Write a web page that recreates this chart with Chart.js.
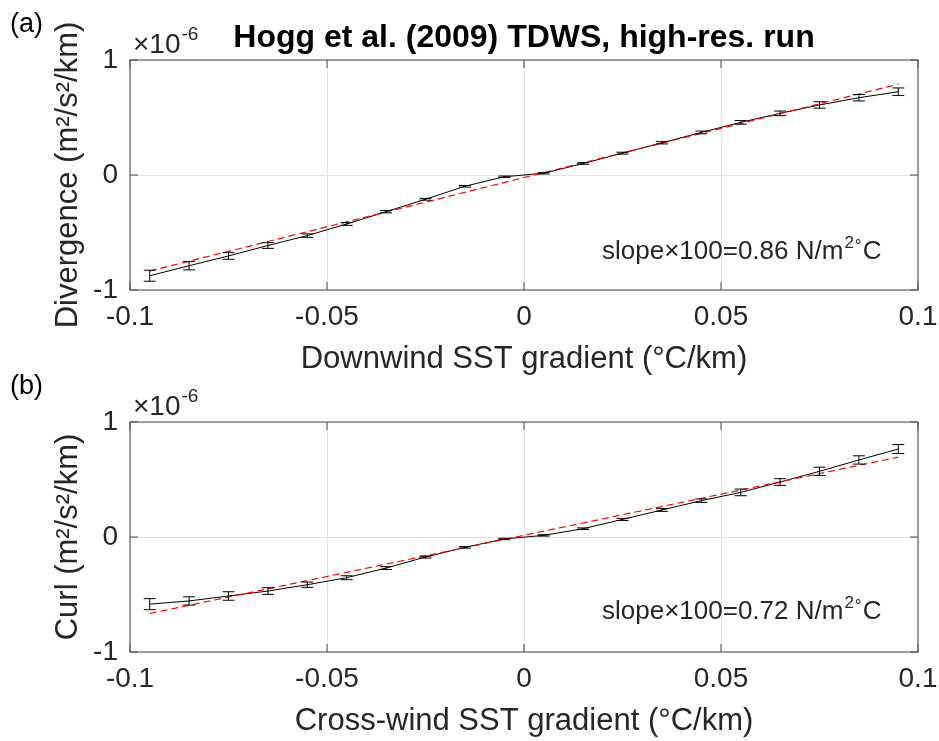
<!DOCTYPE html>
<html>
<head>
<meta charset="utf-8">
<script src="https://cdn.jsdelivr.net/npm/chart.js@4.4.1/dist/chart.umd.min.js"></script>
<style>
html, body { margin: 0; padding: 0; background: #fff; }
#wrap { position: relative; width: 939px; height: 741px; }
canvas { position: absolute; left: 0; top: 0; }
</style>
</head>
<body>
<div id="wrap">
<canvas id="panel-a" width="939" height="741"></canvas>
<canvas id="panel-b" width="939" height="741"></canvas>
</div>
<script>
"use strict";
// bin centres (°C/km)
const gradients = [-0.095, -0.085, -0.075, -0.065, -0.055, -0.045, -0.035, -0.025, -0.015, -0.005,
                   0.005, 0.015, 0.025, 0.035, 0.045, 0.055, 0.065, 0.075, 0.085, 0.095];
// values in units of 1e-6
const divergence = [-0.876, -0.789, -0.704, -0.613, -0.527, -0.426, -0.319, -0.211, -0.098, -0.015,
                    0.015, 0.10, 0.19, 0.28, 0.37, 0.458, 0.536, 0.609, 0.672, 0.724];
const divergenceErr = [0.048, 0.036, 0.029, 0.025, 0.015, 0.012, 0.010, 0.008, 0.007, 0.006,
                       0.006, 0.007, 0.008, 0.010, 0.012, 0.016, 0.020, 0.028, 0.028, 0.033];
const curl = [-0.584, -0.556, -0.513, -0.470, -0.415, -0.354, -0.270, -0.174, -0.090, -0.017,
              0.014, 0.072, 0.153, 0.235, 0.316, 0.388, 0.478, 0.571, 0.670, 0.765];
const curlErr = [0.048, 0.036, 0.037, 0.029, 0.023, 0.017, 0.012, 0.009, 0.007, 0.006,
                 0.006, 0.007, 0.009, 0.012, 0.015, 0.029, 0.029, 0.036, 0.036, 0.039];
const fitX = [-0.095, 0.095];
const divergenceFit = [-0.835, 0.79];
const curlFit = [-0.665, 0.695];
const xTicks = [-0.1, -0.05, 0, 0.05, 0.1];
const yTicks = [-1, 0, 1];

const font = "'Liberation Sans', Arial, Helvetica, sans-serif";
const textColor = "#262626";

const axesBox = {
    id: "axesBox",
    beforeDatasetsDraw(chart) {
        const { ctx, chartArea: a, scales } = chart;
        ctx.save();
        ctx.strokeStyle = "#4a4a4a";
        ctx.lineWidth = 1;
        ctx.strokeRect(a.left, a.top, a.right - a.left, a.bottom - a.top);
        ctx.beginPath();
        xTicks.forEach((t) => {
            const px = Math.round(scales.x.getPixelForValue(t));
            ctx.moveTo(px, a.bottom);
            ctx.lineTo(px, a.bottom - 8);
            ctx.moveTo(px, a.top);
            ctx.lineTo(px, a.top + 8);
        });
        yTicks.forEach((t) => {
            const py = Math.round(scales.y.getPixelForValue(t));
            ctx.moveTo(a.left, py);
            ctx.lineTo(a.left + 8, py);
            ctx.moveTo(a.right, py);
            ctx.lineTo(a.right - 8, py);
        });
        ctx.stroke();
        ctx.restore();
    },
};

const errorBars = {
    id: "errorBars",
    afterDatasetsDraw(chart, args, opts) {
        const { ctx, scales } = chart;
        const points = chart.data.datasets[0].data;
        ctx.save();
        ctx.strokeStyle = "#000";
        ctx.lineWidth = 1;
        ctx.beginPath();
        points.forEach((p, i) => {
            const px = scales.x.getPixelForValue(p.x);
            const top = scales.y.getPixelForValue(p.y + opts.errors[i]);
            const bot = scales.y.getPixelForValue(p.y - opts.errors[i]);
            ctx.moveTo(px, top);
            ctx.lineTo(px, bot);
            ctx.moveTo(px - 6, top);
            ctx.lineTo(px + 6, top);
            ctx.moveTo(px - 6, bot);
            ctx.lineTo(px + 6, bot);
        });
        ctx.stroke();
        ctx.restore();
    },
};

const panelText = {
    id: "panelText",
    afterDraw(chart, args, o) {
        const { ctx, chartArea: a } = chart;
        ctx.save();
        ctx.textBaseline = "alphabetic";
        ctx.textAlign = "left";
        ctx.fillStyle = "#000";
        ctx.font = `27px ${font}`;
        ctx.fillText(o.letter, 10, a.top - 28);

        ctx.fillStyle = textColor;
        ctx.font = `28px ${font}`;
        ctx.fillText("×10", a.left + 3, a.top - 7);
        const w = ctx.measureText("×10").width;
        ctx.font = `19px ${font}`;
        ctx.fillText("-6", a.left + 4 + w, a.top - 20);

        // slope annotation
        let x = 602;
        const y = o.slopeY;
        ctx.font = `26px ${font}`;
        const main = `slope×100=${o.slope} N/m`;
        ctx.fillText(main, x, y);
        x += ctx.measureText(main).width;
        ctx.font = `17px ${font}`;
        ctx.fillText("2", x + 1, y - 11);
        x += ctx.measureText("2").width + 1;
        ctx.fillText("°", x + 1, y - 8);
        x += ctx.measureText("°").width + 2;
        ctx.font = `26px ${font}`;
        ctx.fillText("C", x, y);

        if (o.title) {
            ctx.fillStyle = "#000";
            ctx.textAlign = "center";
            ctx.font = `bold 32px ${font}`;
            ctx.fillText(o.title, (a.left + a.right) / 2, 47);
        }
        ctx.restore();
    },
};

function panelConfig(values, errors, fit, yLabel, xLabel, layoutPad, xHeight, xTitlePad, text) {
    return {
        type: "line",
        data: {
            datasets: [
                {
                    label: "binned",
                    data: gradients.map((g, i) => ({ x: g, y: values[i] })),
                    borderColor: "#000",
                    borderWidth: 1,
                    pointRadius: 0,
                    tension: 0,
                    order: 1,
                },
                {
                    label: "fit",
                    data: fitX.map((g, i) => ({ x: g, y: fit[i] })),
                    borderColor: "#ff0000",
                    borderWidth: 1.2,
                    borderDash: [7, 4],
                    pointRadius: 0,
                    order: 0,
                },
            ],
        },
        options: {
            responsive: false,
            animation: false,
            devicePixelRatio: 1,
            layout: { padding: layoutPad, autoPadding: false },
            plugins: {
                legend: { display: false },
                tooltip: { enabled: false },
                errorBars: { errors: errors },
                panelText: text,
            },
            scales: {
                x: {
                    type: "linear",
                    min: -0.1,
                    max: 0.1,
                    afterBuildTicks: (s) => { s.ticks = xTicks.map((v) => ({ value: v })); },
                    afterFit: (s) => {
                        s.height = xHeight;
                        s.paddingLeft = 0;
                        s.paddingRight = 0;
                    },
                    grid: { color: "#e2e2e2", drawTicks: false },
                    border: { display: false },
                    ticks: {
                        color: textColor,
                        padding: 10,
                        maxRotation: 0,
                        font: { family: font, size: 28, lineHeight: 1.2 },
                        callback: (v) => String(v),
                    },
                    title: {
                        display: true,
                        text: xLabel,
                        color: textColor,
                        padding: { top: 0, bottom: xTitlePad },
                        font: { family: font, size: 31, lineHeight: 1 },
                    },
                },
                y: {
                    min: -1,
                    max: 1,
                    afterBuildTicks: (s) => { s.ticks = yTicks.map((v) => ({ value: v })); },
                    afterFit: (s) => {
                        s.width = 130;
                        s.paddingTop = 0;
                        s.paddingBottom = 0;
                    },
                    grid: { color: "#e2e2e2", drawTicks: false },
                    border: { display: false },
                    ticks: {
                        color: textColor,
                        padding: 12,
                        font: { family: font, size: 28 },
                        callback: (v) => String(v),
                    },
                    title: {
                        display: true,
                        text: yLabel,
                        color: textColor,
                        padding: { top: 53, bottom: 0 },
                        font: { family: font, size: 31, lineHeight: 1 },
                    },
                },
            },
        },
        plugins: [axesBox, errorBars, panelText],
    };
}

new Chart(
    document.getElementById("panel-a"),
    panelConfig(divergence, divergenceErr, divergenceFit,
        "Divergence (m²/s²/km)", "Downwind SST gradient (°C/km)",
        { left: 0, top: 60, right: 21, bottom: 361 }, 90, 5,
        { letter: "(a)", slope: "0.86", slopeY: 259, title: "Hogg et al. (2009) TDWS, high-res. run" })
);

new Chart(
    document.getElementById("panel-b"),
    panelConfig(curl, curlErr, curlFit,
        "Curl (m²/s²/km)", "Cross-wind SST gradient (°C/km)",
        { left: 0, top: 422, right: 21, bottom: 0 }, 89, 4,
        { letter: "(b)", slope: "0.72", slopeY: 619, title: null })
);
</script>
</body>
</html>
